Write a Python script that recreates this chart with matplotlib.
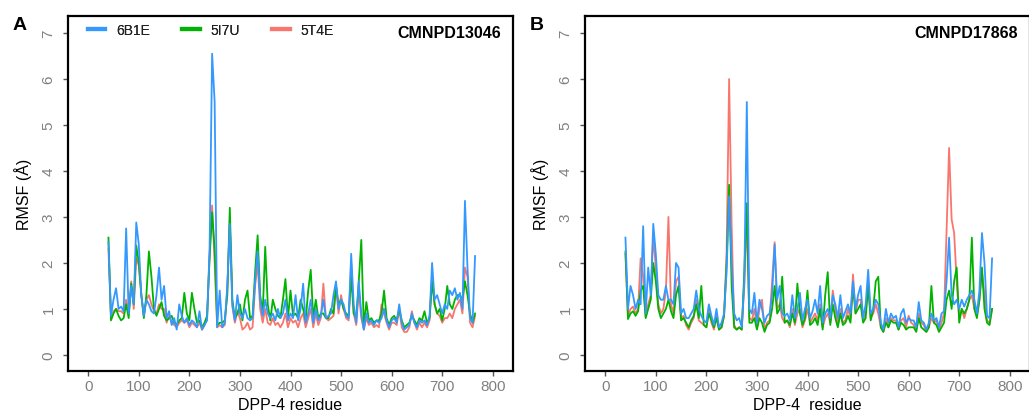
import matplotlib
matplotlib.use("Agg")
import matplotlib.pyplot as plt

plt.rcParams['font.family'] = ['Liberation Sans', 'DejaVu Sans']

# residue numbers (sampled every 5 residues)
residues = list(range(40, 770, 5))

# Panel A: CMNPD13046
a_6B1E = [2.45, 0.85, 1.2, 1.45, 1.0, 1.05, 0.95, 2.75, 0.9, 1.5,
          1.1, 2.88, 2.4, 1.3, 0.85, 1.2, 1.1, 0.95, 0.9, 1.3,
          1.9, 1.2, 1.5, 0.8, 0.95, 0.65, 0.8, 0.55, 1.1, 0.85,
          0.7, 0.8, 0.65, 0.75, 0.7, 0.6, 0.95, 0.55, 0.65, 0.75,
          2.3, 6.55, 5.5, 0.6, 1.4, 0.6, 0.7, 1.5, 2.85, 1.1,
          0.75, 1.3, 0.9, 0.8, 1.0, 0.8, 0.75, 0.8, 1.6, 2.25,
          1.2, 0.85, 1.2, 0.9, 0.8, 0.9, 0.75, 1.0, 0.8, 0.9,
          1.2, 0.75, 0.9, 0.8, 1.3, 0.75, 1.0, 1.55, 0.7, 0.9,
          1.2, 0.7, 1.0, 0.75, 0.85, 1.2, 0.8, 0.85, 0.9, 1.3,
          1.6, 1.0, 1.2, 1.1, 0.85, 0.8, 2.2, 1.1, 0.7, 1.6,
          0.9, 0.55, 0.9, 0.7, 0.75, 0.65, 0.75, 0.7, 0.8, 1.0,
          0.75, 0.6, 0.75, 0.8, 0.7, 1.1, 0.7, 0.55, 0.6, 0.65,
          0.9, 0.7, 0.6, 0.75, 0.7, 0.75, 0.65, 0.85, 2.0, 1.2,
          1.3, 1.1, 0.9, 1.1, 1.0, 1.4, 1.3, 1.45, 1.2, 1.35,
          1.0, 3.35, 1.9, 0.8, 0.7, 2.15]
a_5I7U = [2.55, 0.75, 0.9, 1.0, 0.85, 0.75, 0.8, 1.1, 0.8, 1.55,
          1.1, 2.38, 2.0, 1.3, 0.8, 1.3, 2.25, 1.7, 1.0, 0.85,
          1.0, 1.15, 0.85, 0.75, 0.8, 0.85, 0.7, 0.65, 0.75, 0.8,
          1.35, 0.9, 0.75, 1.35, 1.0, 0.7, 0.75, 0.6, 0.7, 0.85,
          2.1, 3.1, 2.3, 0.65, 0.7, 0.7, 0.75, 1.3, 3.2, 1.2,
          0.8, 0.9, 1.1, 0.75, 1.2, 1.4, 0.8, 0.85, 1.8, 2.6,
          1.3, 0.9, 2.35, 1.1, 0.75, 1.2, 1.0, 0.85, 0.8, 1.2,
          1.65, 0.8, 1.4, 0.85, 0.9, 0.8, 1.2, 1.0, 0.75, 1.4,
          1.85, 0.8, 1.2, 0.8, 0.9, 0.9, 0.8, 0.8, 1.0, 0.9,
          1.5, 1.1, 1.2, 1.0, 0.9, 0.85, 1.7, 0.9, 0.8, 1.6,
          2.5, 0.6, 1.15, 0.75, 0.8, 0.7, 0.75, 0.75, 0.9, 1.4,
          0.8, 0.65, 0.8, 0.85, 0.75, 1.0, 0.75, 0.6, 0.65, 0.7,
          0.85, 0.75, 0.65, 0.8, 0.75, 0.95, 0.7, 0.8, 1.6, 1.1,
          0.9, 1.0, 0.75, 1.0, 1.5, 1.1, 1.0, 1.2, 1.3, 1.3,
          1.2, 1.6, 1.3, 0.9, 0.7, 0.9]
a_5T4E = [2.3, 0.8, 0.95, 1.0, 0.95, 0.95, 0.9, 1.2, 0.9, 1.6,
          1.0, 2.1, 1.95, 1.3, 0.85, 1.2, 1.3, 1.1, 0.95, 0.9,
          1.1, 1.0, 1.0, 0.7, 0.85, 0.7, 0.65, 0.6, 0.7, 0.75,
          0.7, 0.75, 0.6, 0.7, 0.65, 0.6, 0.7, 0.55, 0.65, 0.8,
          2.2, 3.25, 2.0, 0.6, 0.65, 0.6, 0.65, 1.4, 2.9, 1.05,
          0.7, 0.95, 0.8, 0.55, 0.6, 0.7, 0.55, 0.6, 1.5, 2.0,
          1.0, 0.7, 1.0, 0.7, 0.65, 0.8, 0.65, 0.7, 0.6, 0.7,
          0.9, 0.6, 0.8, 0.7, 0.75, 0.6, 0.8, 0.9, 0.6, 0.8,
          1.0, 0.6, 0.9, 0.65, 0.8, 1.55, 0.8, 0.75, 0.8, 0.85,
          1.5, 0.9, 1.3, 1.0, 0.8, 0.75, 2.0, 0.9, 0.65, 1.4,
          0.8, 0.55, 0.8, 0.65, 0.7, 0.6, 0.65, 0.6, 1.1, 0.9,
          0.7, 0.55, 0.7, 0.7, 0.65, 1.0, 0.6, 0.5, 0.5, 0.6,
          0.95, 0.7, 0.55, 0.7, 0.6, 0.7, 0.6, 0.75, 1.7, 1.1,
          0.9, 0.85, 0.7, 0.8, 0.8, 0.9, 0.8, 1.0, 1.1, 1.2,
          0.9, 1.9, 1.7, 0.7, 0.6, 0.85]

# Panel B: CMNPD17868
b_6B1E = [2.55, 1.0, 1.5, 1.3, 1.0, 1.2, 1.1, 2.8, 0.9, 1.9,
          1.3, 2.85, 2.2, 1.3, 1.2, 1.2, 1.5, 1.2, 1.2, 1.1,
          2.0, 1.9, 0.9, 1.0, 0.8, 0.8, 0.9, 1.0, 1.4, 1.0,
          0.85, 0.75, 0.7, 1.1, 0.85, 0.65, 1.0, 0.6, 0.7, 0.9,
          1.8, 3.45, 2.0, 0.9, 0.75, 0.8, 0.6, 1.6, 5.5, 1.0,
          0.9, 1.35, 0.7, 1.2, 1.0, 0.7, 0.85, 0.9, 1.3, 2.4,
          1.2, 1.5, 0.9, 0.85, 0.9, 0.75, 1.3, 0.8, 1.0, 1.35,
          0.75, 1.0, 1.2, 0.8, 0.95, 1.2, 0.9, 1.5, 0.7, 0.9,
          1.0, 0.8, 1.3, 1.1, 0.8, 1.3, 0.8, 0.95, 1.1, 0.9,
          1.6, 1.0, 1.3, 1.5, 0.8, 1.1, 1.85, 0.9, 1.0, 1.2,
          1.1, 0.7, 0.55, 1.0, 0.7, 0.9, 0.8, 0.85, 0.6, 0.9,
          1.0, 0.7, 0.8, 0.75, 0.75, 0.6, 1.15, 0.75, 0.7, 0.55,
          0.7, 0.9, 0.75, 0.8, 0.6, 0.9, 0.95, 1.6, 2.55, 1.3,
          1.1, 1.2, 1.0, 1.2, 1.05, 1.2, 1.3, 1.4, 1.2, 0.9,
          1.4, 2.65, 2.0, 0.85, 0.8, 2.1]
b_5I7U = [2.25, 0.78, 0.9, 0.95, 0.85, 0.95, 1.4, 1.5, 0.8, 1.0,
          1.2, 2.0, 1.6, 1.0, 0.8, 0.9, 1.0, 1.2, 0.95, 0.8,
          1.3, 1.5, 0.75, 0.8, 0.7, 0.6, 0.75, 0.85, 1.1, 0.8,
          1.5, 0.65, 0.6, 0.9, 0.75, 0.6, 0.8, 0.55, 0.6, 0.85,
          2.0, 3.7, 1.5, 0.6, 0.55, 0.6, 0.55, 1.8, 3.3, 0.7,
          0.7, 0.8, 0.55, 0.8, 0.7, 0.5, 0.65, 0.7, 1.0, 1.5,
          0.9, 1.0, 1.7, 0.7, 0.75, 0.65, 0.9, 0.7, 1.55, 0.9,
          0.65, 0.8, 1.4, 0.65, 0.7, 0.8, 0.65, 1.0, 0.55, 1.3,
          1.8, 0.65, 1.1, 0.8, 0.6, 0.9, 0.65, 0.7, 0.85, 0.7,
          1.5, 0.9, 1.0, 1.1, 0.7, 0.8, 1.5, 0.75, 1.0, 1.6,
          1.7, 0.6, 0.5, 0.7, 0.6, 0.75, 0.7, 0.7, 0.55, 0.7,
          0.65, 0.55, 0.6, 0.6, 0.6, 0.5, 0.8, 0.6, 0.55, 0.5,
          0.6, 1.5, 0.7, 0.65, 0.5, 0.6, 0.7, 1.2, 1.4, 1.0,
          1.6, 1.9, 0.7, 1.0, 0.9, 1.0, 1.2, 2.55, 1.0, 0.8,
          1.2, 1.9, 1.0, 0.7, 0.65, 1.0]
b_5T4E = [2.2, 0.85, 1.0, 1.05, 0.9, 1.0, 2.1, 1.7, 0.85, 1.1,
          1.3, 2.6, 1.9, 1.1, 0.9, 1.0, 1.4, 3.0, 1.1, 0.9,
          1.6, 1.7, 0.8, 0.85, 0.65, 0.55, 0.7, 0.8, 1.2, 0.75,
          0.7, 0.65, 0.6, 1.05, 0.7, 0.55, 0.85, 0.55, 0.6, 0.85,
          2.2, 6.0, 2.8, 0.65, 0.55, 0.6, 0.55, 1.5, 3.0, 0.8,
          0.75, 1.0, 0.6, 1.0, 1.2, 0.55, 0.7, 0.75, 1.6, 2.45,
          1.0, 1.1, 0.8, 0.7, 0.75, 0.6, 1.0, 0.65, 0.9, 1.0,
          0.6, 0.75, 1.0, 0.7, 0.8, 0.9, 0.75, 1.1, 0.6, 0.8,
          0.9, 0.7, 1.4, 1.0, 0.65, 1.0, 0.7, 0.75, 1.0, 0.8,
          1.75, 0.9, 1.2, 1.2, 0.75, 0.9, 1.6, 0.8, 0.9, 1.1,
          0.9, 0.6, 0.5, 0.8, 0.6, 0.8, 0.75, 0.75, 0.55, 0.75,
          0.8, 0.6, 0.85, 0.7, 0.65, 0.55, 0.9, 0.7, 0.65, 0.5,
          0.6, 0.8, 0.7, 0.75, 0.55, 0.7, 0.9, 2.7, 4.5, 2.95,
          2.65, 1.6, 0.8, 1.0, 0.8, 1.0, 1.2, 1.3, 1.0, 0.85,
          1.2, 1.8, 1.3, 0.75, 0.7, 1.0]

series_names = ["6B1E", "5I7U", "5T4E"]
colors = {"6B1E": "#3399FF", "5I7U": "#00B300", "5T4E": "#F8766D"}
panels = [
    ("A", "CMNPD13046", "DPP-4 residue", {"6B1E": a_6B1E, "5I7U": a_5I7U, "5T4E": a_5T4E}),
    ("B", "CMNPD17868", "DPP-4  residue", {"6B1E": b_6B1E, "5I7U": b_5I7U, "5T4E": b_5T4E}),
]
x_ticks = [0, 100, 200, 300, 400, 500, 600, 700, 800]
y_ticks = [0, 1, 2, 3, 4, 5, 6, 7]

W, H = 1029, 414
fig = plt.figure(figsize=(W / 100, H / 100), dpi=100)

axes_px = [(68, 17, 445, 355), (585, 17, 445, 355)]
letter_px = [(19.5, 25), (537, 25)]
ylabel_x = [32, 549]

for (letter, cmpd, xlabel, data), (l, t, w, h), (lx, ly), ylx in zip(panels, axes_px, letter_px, ylabel_x):
    ax = fig.add_axes([l / W, (H - t - h) / H, w / W, h / H])
    draw_order = ["5T4E", "5I7U", "6B1E"]
    lines = {}
    for name in draw_order:
        ln, = ax.plot(residues, data[name], color=colors[name], lw=1.3, label=name)
        lines[name] = ln
    ax.set_xlim(-40, 840)
    ax.set_ylim(-0.35, 7.37)
    ax.set_xticks(x_ticks)
    ax.set_yticks(y_ticks)
    ax.tick_params(axis='both', colors='#555555', labelcolor='#808080',
                   labelsize=11, length=3.5, width=1.0, direction='out')
    ax.tick_params(axis='x', pad=2)
    ax.tick_params(axis='y', pad=5.5, labelrotation=90)
    for lab in ax.get_yticklabels():
        lab.set_verticalalignment('center')
    for s in ax.spines.values():
        s.set_linewidth(1.6)
        s.set_color('black')
    ax.set_xlabel(xlabel, fontsize=11.5, labelpad=3)
    ax.set_ylabel("RMSF (Å)", fontsize=11.5)
    ax.yaxis.set_label_coords((ylx - l) / w, 0.5)

    leg = ax.legend([lines[n] for n in series_names], series_names,
                    loc='upper left', bbox_to_anchor=((88 - l) / w, (t + h - 24) / h),
                    ncol=3, frameon=False, fontsize=10, handlelength=1.25,
                    handletextpad=0.75, columnspacing=2.35, borderpad=0,
                    borderaxespad=0)
    for lh in leg.get_lines():
        lh.set_linewidth(3)
    for txt in leg.get_texts():
        txt.set_color('#222222')

    ax.text((w - 12) / w, (h - 16) / h, cmpd, transform=ax.transAxes,
            ha='right', va='center', fontsize=11.5, fontweight='bold')
    fig.text(lx / W, 1 - ly / H, letter, ha='center', va='center',
             fontsize=14, fontweight='bold')

fig.savefig("out.png", dpi=100)
